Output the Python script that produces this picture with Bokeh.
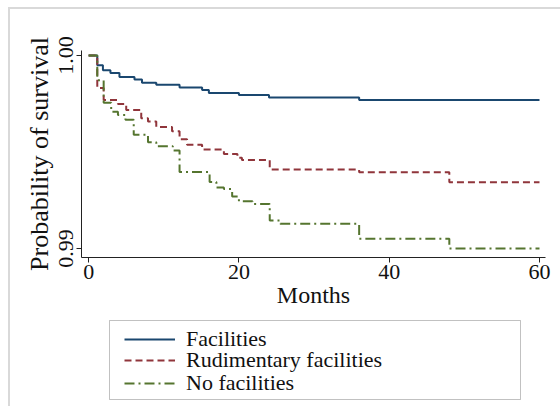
from bokeh.plotting import figure
from bokeh.layouts import column
from bokeh.models import (FixedTicker, Legend, LegendItem, InlineStyleSheet, Range1d,
                          BoxAnnotation)
from bokeh.embed import file_html
from bokeh.resources import INLINE

# Kaplan-Meier survival estimates (step functions, value holds until next change)
facilities_months = [0, 1.15, 1.9, 2.9, 4.1, 6.1, 7.1, 9.0, 12.1, 15.1, 16.0, 20.0, 24.0, 36.0, 60.0]
facilities_surv = [1.0, 0.99949, 0.99923, 0.99909, 0.99889, 0.99875, 0.99858, 0.99848,
                   0.99834, 0.99821, 0.99805, 0.99795, 0.99782, 0.99769, 0.99769]

rudimentary_months = [0, 1.15, 2.0, 3.9, 5.0, 7.0, 7.9, 9.0, 11.1, 12.1, 13.1, 15.1,
                      18.0, 19.8, 20.4, 24.1, 36.0, 48.0, 60.0]
rudimentary_surv = [1.0, 0.99831, 0.99769, 0.99749, 0.99718, 0.99675, 0.99658, 0.99629,
                    0.99607, 0.99566, 0.99538, 0.99513, 0.99490, 0.99470, 0.99458,
                    0.99410, 0.99395, 0.99344, 0.99344]

nofac_months = [0, 1.15, 2.0, 3.0, 3.9, 4.9, 6.0, 7.9, 9.0, 11.2, 12.1, 16.1, 17.0, 18.0,
                19.1, 20.0, 21.8, 24.1, 25.5, 36.0, 48.0, 60.0]
nofac_surv = [1.0, 0.99872, 0.99755, 0.99709, 0.99692, 0.99667, 0.99590, 0.99550, 0.99530,
              0.99508, 0.99396, 0.99345, 0.99316, 0.99308, 0.99270, 0.99245, 0.99231,
              0.99145, 0.99128, 0.99051, 0.99000, 0.99000]

series_names = ["Facilities", "Rudimentary facilities", "No facilities"]
series_colors = ["#1a476f", "#90353b", "#55752f"]
series_dashes = ["solid", "7 4", "10 4 2 4"]
x_ticks = [0, 20, 40, 60]
y_ticks = [0.99, 1.00]
y_tick_labels = {0.99: "0.99", 1.00: "1.00"}

FONT = "Liberation Serif"

# Light grey graph-region border along the top and left edges
top_border_css = InlineStyleSheet(css="""
:host::after {
  content: ""; position: absolute;
  left: 8px; top: 7px; right: 0; bottom: 0;
  border-top: 2px solid #d9d9d9; border-left: 2px solid #d9d9d9;
  pointer-events: none;
}
""")
side_border_css = InlineStyleSheet(css="""
:host::after {
  content: ""; position: absolute;
  left: 8px; top: 0; right: 0; bottom: 0;
  border-left: 2px solid #d9d9d9;
  pointer-events: none;
}
""")

series = [(facilities_months, facilities_surv),
          (rudimentary_months, rudimentary_surv),
          (nofac_months, nofac_surv)]

# ---- main survival plot ----
p = figure(width=560, height=310, output_backend="svg", toolbar_location=None,
           x_range=(-0.95, 60.8), y_range=(0.989538, 1.000256),
           min_border_left=81, min_border_right=15, min_border_top=50,
           min_border_bottom=51, stylesheets=[top_border_css])
p.outline_line_color = None
p.background_fill_color = "white"
p.border_fill_color = "white"
p.xgrid.visible = False
p.ygrid.visible = False

for (mx, sv), col, dash in zip(series, series_colors, series_dashes):
    p.step(mx, sv, mode="after", line_color=col, line_width=2, line_dash=dash)

for ax in (p.xaxis[0], p.yaxis[0]):
    ax.axis_line_color = "#222222"
    ax.axis_line_width = 1
    ax.major_tick_line_color = "#222222"
    ax.major_tick_out = 5
    ax.major_tick_in = 0
    ax.minor_tick_line_color = None
    ax.major_label_text_font = FONT
    ax.major_label_text_font_size = "22px"
    ax.major_label_text_color = "#111111"
    ax.axis_label_text_font = FONT
    ax.axis_label_text_font_style = "normal"
    ax.axis_label_text_color = "#111111"

p.xaxis.ticker = FixedTicker(ticks=x_ticks)
p.xaxis.axis_label = "Months"
p.xaxis.axis_label_text_font_size = "24px"
p.xaxis.major_label_standoff = 2
p.xaxis.axis_label_standoff = 0

p.yaxis.ticker = FixedTicker(ticks=y_ticks)
p.yaxis.major_label_overrides = y_tick_labels
p.yaxis.major_label_orientation = "vertical"
p.yaxis.axis_label = "Probability of survival"
p.yaxis.axis_label_text_font_size = "26px"
p.yaxis.major_label_standoff = 3
p.yaxis.axis_label_standoff = 3

# ---- legend strip underneath (keys only; its series renderers stay hidden) ----
# frame spans the same horizontal extent as the plot frame; ranges are in pixels
lg = figure(width=560, height=96, output_backend="svg", toolbar_location=None,
            x_range=Range1d(0, 464), y_range=Range1d(0, 96),
            x_axis_location=None, y_axis_location=None,
            min_border_left=81, min_border_right=15, min_border_top=0,
            min_border_bottom=0, stylesheets=[side_border_css])
lg.grid.visible = False
lg.outline_line_color = None
lg.background_fill_color = "white"
lg.border_fill_color = "white"

# legend box outline
lg.add_layout(BoxAnnotation(left=28, right=439, bottom=7, top=86,
                            fill_alpha=0, line_color="#333333", line_width=1))

# one key per row, stacked at a fixed pitch inside the box
row_offsets = [54, 33, 10]
for name, (mx, sv), col, dash, off in zip(series_names, series, series_colors,
                                          series_dashes, row_offsets):
    r = lg.step(mx, sv, mode="after", line_color=col, line_width=2, line_dash=dash,
                visible=False)
    key = Legend(items=[LegendItem(label=name, renderers=[r])],
                 location=(43, off), orientation="vertical",
                 label_text_font=FONT, label_text_font_size="22px",
                 label_text_color="#111111",
                 glyph_width=51, glyph_height=20, label_height=20,
                 label_standoff=11, spacing=0, padding=0, margin=0,
                 border_line_color=None, background_fill_alpha=0,
                 inactive_fill_alpha=0)
    lg.add_layout(key, "center")

layout = column(p, lg, spacing=0)
open("out.html", "w").write(file_html(layout, INLINE))
